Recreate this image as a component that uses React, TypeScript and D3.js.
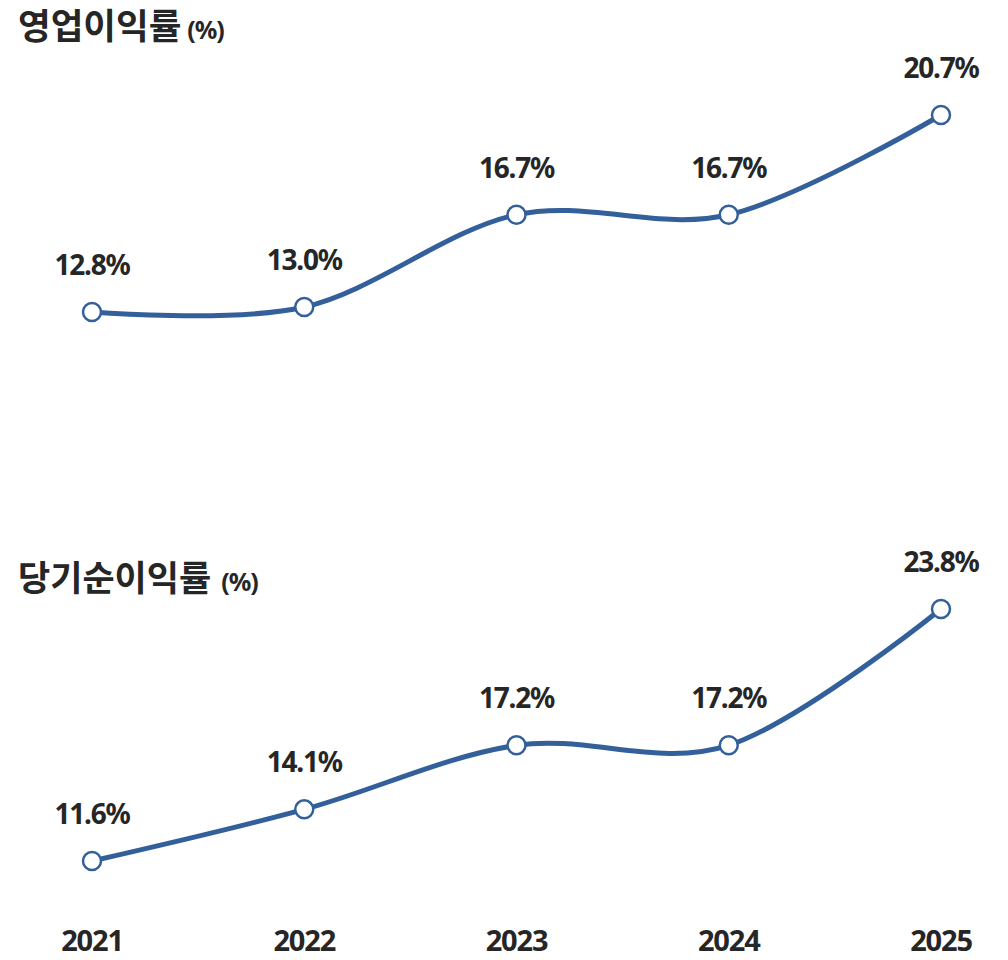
import React from "react";
import * as d3 from "d3";

const years = ["2021", "2022", "2023", "2024", "2025"];
const operatingMargin = [12.8, 13.0, 16.7, 16.7, 20.7];
const netMargin = [11.6, 14.1, 17.2, 17.2, 23.8];
const titles = ["영업이익률", "당기순이익률"];

const W = 1008;
const H = 960;
const LINE = "#33609a";
const TEXT = "#262626";
const FONT = "'Noto Sans', 'Noto Sans CJK KR', sans-serif";

const x = d3.scalePoint<string>().domain(years).range([92, 941]);
const yTop = d3.scaleLinear().domain([12.8, 20.7]).range([312, 115]);
const yBot = d3.scaleLinear().domain([11.6, 23.8]).range([861, 609]);

function Series({ values, y }: { values: number[]; y: d3.ScaleLinear<number, number> }) {
  const line = d3
    .line<number>()
    .x((_, i) => x(years[i]) as number)
    .y((d) => y(d))
    .curve(d3.curveCardinal.tension(0));
  return (
    <g>
      <path d={line(values) || ""} fill="none" stroke={LINE} strokeWidth={5} strokeLinecap="round" />
      {values.map((v, i) => (
        <g key={i}>
          <circle cx={x(years[i])} cy={y(v)} r={9} fill="#fff" stroke={LINE} strokeWidth={2.5} />
          <text
            x={x(years[i])}
            y={y(v) - 37}
            textAnchor="middle"
            fontFamily={FONT}
            fontWeight={700}
            fontSize={28}
            letterSpacing={-1.2}
            fill={TEXT}
          >
            {v.toFixed(1)}%
          </text>
        </g>
      ))}
    </g>
  );
}

export default function App() {
  return (
    <svg width={W} height={H} style={{ position: "absolute", left: 0, top: 0 }}>
      <rect width={W} height={H} fill="#fff" />
      <text x={18} y={39} fontFamily={FONT} fontWeight={700} fontSize={35.5} fill={TEXT}>
        {titles[0]}
        <tspan fontSize={25} dx={6} letterSpacing={-1}>(%)</tspan>
      </text>
      <text x={18} y={591} fontFamily={FONT} fontWeight={700} fontSize={35} fill={TEXT}>
        {titles[1]}
        <tspan fontSize={25} dx={10} letterSpacing={-1}>(%)</tspan>
      </text>
      <Series values={operatingMargin} y={yTop} />
      <Series values={netMargin} y={yBot} />
      {years.map((yr) => (
        <text
          key={yr}
          x={x(yr)}
          y={951}
          textAnchor="middle"
          fontFamily={FONT}
          fontWeight={700}
          fontSize={29}
          letterSpacing={-1.2}
          fill={TEXT}
        >
          {yr}
        </text>
      ))}
    </svg>
  );
}
